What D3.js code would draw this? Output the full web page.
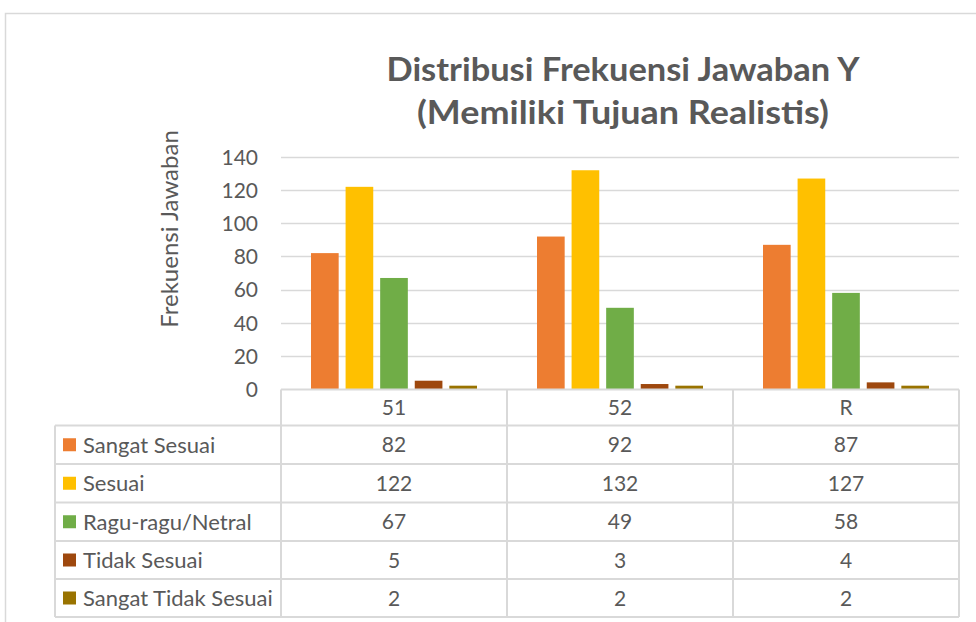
<!DOCTYPE html>
<html>
<head>
<meta charset="utf-8">
<script src="https://cdn.jsdelivr.net/npm/d3@7"></script>
<style>
  body { margin: 0; background: #fff; }
  svg { display: block; font-family: Lato, "Open Sans", sans-serif; }
</style>
</head>
<body>
<svg id="chart" width="976" height="622"></svg>
<script>
// chart values
var categories = ["51", "52", "R"];
var seriesNames = ["Sangat Sesuai", "Sesuai", "Ragu-ragu/Netral", "Tidak Sesuai", "Sangat Tidak Sesuai"];
var seriesColors = ["#ED7D31", "#FFC000", "#70AD47", "#9E480E", "#997300"];
var sangatSesuai = [82, 92, 87];
var sesuai = [122, 132, 127];
var raguRagu = [67, 49, 58];
var tidakSesuai = [5, 3, 4];
var sangatTidakSesuai = [2, 2, 2];
var yTicks = [0, 20, 40, 60, 80, 100, 120, 140];
var titleLines = ["Distribusi Frekuensi Jawaban Y", "(Memiliki Tujuan Realistis)"];
var yLabel = "Frekuensi Jawaban";

var seriesValues = [sangatSesuai, sesuai, raguRagu, tidakSesuai, sangatTidakSesuai];

var svg = d3.select("#chart");
var textColor = "#595959";
var lineColor = "#d9d9d9";

var plotLeft = 281, plotRight = 959, plotTop = 157, plotBottom = 389;

// outer chart frame
svg.append("path")
    .attr("d", "M5.5,640 L5.5,13.5 L990,13.5")
    .attr("fill", "none")
    .attr("stroke", lineColor)
    .attr("stroke-width", 1.5);

// title
svg.append("g").selectAll("text")
    .data(titleLines)
    .enter().append("text")
    .attr("x", 623)
    .attr("y", function(d, i) { return 81 + i * 43; })
    .attr("text-anchor", "middle")
    .attr("font-size", 33)
    .attr("font-weight", "bold")
    .attr("fill", textColor)
    .attr("textLength", function(d, i) { return i === 0 ? 473 : 412; })
    .attr("lengthAdjust", "spacingAndGlyphs")
    .text(function(d) { return d; });

var y = d3.scaleLinear().domain([0, 140]).range([plotBottom, plotTop]);

var x0 = d3.scaleBand().domain(categories).range([plotLeft, plotRight]);

var x1 = d3.scaleBand().domain(seriesNames)
    .range([30, x0.bandwidth() - 30])
    .paddingInner(0.2).paddingOuter(0);

// gridlines
svg.append("g").selectAll("line")
    .data(yTicks.filter(function(t) { return t > 0; }))
    .enter().append("line")
    .attr("x1", plotLeft).attr("x2", plotRight)
    .attr("y1", function(d) { return Math.round(y(d)) + 0.5; })
    .attr("y2", function(d) { return Math.round(y(d)) + 0.5; })
    .attr("stroke", lineColor)
    .attr("stroke-width", 1.5);

// y axis tick labels
var yAxis = d3.axisLeft(y).tickValues(yTicks).tickSize(0).tickPadding(0);
var yAxisG = svg.append("g").attr("transform", "translate(258,0)").call(yAxis);
yAxisG.select(".domain").remove();
yAxisG.selectAll("text")
    .attr("font-family", "Lato, sans-serif")
    .attr("font-size", 21)
    .attr("fill", textColor)
    .attr("dy", "0.35em");

// y axis title
svg.append("text")
    .attr("transform", "translate(178,229) rotate(-90)")
    .attr("text-anchor", "middle")
    .attr("font-size", 24)
    .attr("fill", textColor)
    .text(yLabel);

// bars
var groups = svg.append("g").selectAll("g")
    .data(categories)
    .enter().append("g")
    .attr("transform", function(d) { return "translate(" + x0(d) + ",0)"; });

groups.selectAll("rect")
    .data(function(d, ci) {
        return seriesNames.map(function(s, si) {
            return { series: s, value: seriesValues[si][ci], color: seriesColors[si] };
        });
    })
    .enter().append("rect")
    .attr("x", function(d) { return x1(d.series); })
    .attr("width", x1.bandwidth())
    .attr("y", function(d) { return y(d.value); })
    .attr("height", function(d) { return plotBottom - y(d.value); })
    .attr("fill", function(d) { return d.color; });

// data table
var tableLeft = 55;
var rowEdges = [389.5, 425.5, 464, 502.5, 541, 579, 617];
var colEdges = [plotLeft].concat(categories.map(function(c) { return x0(c) + x0.bandwidth(); }));

var table = svg.append("g");

// horizontal lines
rowEdges.forEach(function(ry, i) {
    table.append("line")
        .attr("x1", i === 0 ? plotLeft : tableLeft)
        .attr("x2", plotRight)
        .attr("y1", ry).attr("y2", ry)
        .attr("stroke", lineColor).attr("stroke-width", 2);
});

// vertical lines
colEdges.forEach(function(cx) {
    table.append("line")
        .attr("x1", cx).attr("x2", cx)
        .attr("y1", rowEdges[0]).attr("y2", rowEdges[rowEdges.length - 1])
        .attr("stroke", lineColor).attr("stroke-width", 2);
});
table.append("line")
    .attr("x1", tableLeft).attr("x2", tableLeft)
    .attr("y1", rowEdges[1]).attr("y2", rowEdges[rowEdges.length - 1])
    .attr("stroke", lineColor).attr("stroke-width", 2);

// header row
table.selectAll("text.head")
    .data(categories)
    .enter().append("text")
    .attr("class", "head")
    .attr("x", function(d) { return x0(d) + x0.bandwidth() / 2; })
    .attr("y", (rowEdges[0] + rowEdges[1]) / 2)
    .attr("dy", "0.36em")
    .attr("text-anchor", "middle")
    .attr("font-size", 21)
    .attr("fill", textColor)
    .text(function(d) { return d; });

// series rows
seriesNames.forEach(function(s, si) {
    var cy = (rowEdges[si + 1] + rowEdges[si + 2]) / 2;
    table.append("rect")
        .attr("x", 63).attr("y", cy - 6.5)
        .attr("width", 13).attr("height", 13)
        .attr("fill", seriesColors[si]);
    table.append("text")
        .attr("x", 83).attr("y", cy)
        .attr("dy", "0.36em")
        .attr("font-size", 22)
        .attr("fill", textColor)
        .text(s);
    categories.forEach(function(c, ci) {
        table.append("text")
            .attr("x", x0(c) + x0.bandwidth() / 2)
            .attr("y", cy)
            .attr("dy", "0.36em")
            .attr("text-anchor", "middle")
            .attr("font-size", 21)
            .attr("fill", textColor)
            .text(seriesValues[si][ci]);
    });
});
</script>
</body>
</html>
